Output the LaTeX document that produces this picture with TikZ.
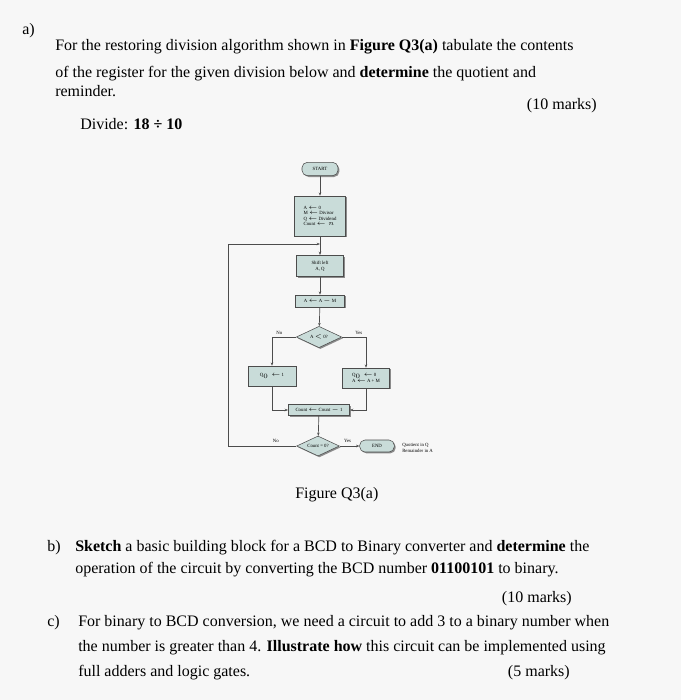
\documentclass[tikz,border=0pt]{standalone}
\usepackage{fontspec}
\setmainfont{Liberation Serif}
\usetikzlibrary{shapes.geometric,arrows.meta,shadows}
\begin{document}
\begin{tikzpicture}[x=0.75pt,y=-0.75pt,
 txt/.style={anchor=base west,inner sep=0,font=\fontsize{12}{14}\selectfont},
 txtr/.style={anchor=base east,inner sep=0,font=\fontsize{12}{14}\selectfont},
 fbox/.style={draw=black!70,fill=boxc,font=\fontsize{3.6}{4.2}\selectfont,align=center,inner sep=1pt,drop shadow={shadow xshift=1pt,shadow yshift=-1pt,fill=black!45,opacity=1}},
 dia/.style={fbox,diamond,aspect=2.2,inner sep=0pt},
 ln/.style={draw=black!70,line width=0.5pt},
 arr/.style={ln,-{Stealth[length=2.5pt]}},
 lab/.style={font=\fontsize{3.6}{4.2}\selectfont,inner sep=0}]
\definecolor{boxc}{HTML}{C9DCD9}
\fill[black!3] (0,0) rectangle (681,700);
\useasboundingbox (0,0) rectangle (681,700);
% text
\node[txt] (a) at (22,34) {a)};
\node[txt] (l1) at (55,50) {For the restoring division algorithm shown in \textbf{Figure Q3(a)} tabulate the contents};
\node[txt] (l2) at (55,77) {of the register for the given division below and \textbf{determine} the quotient and};
\node[txt] (l3) at (55,96) {reminder.};
\node[txtr] (m1) at (597,109) {(10 marks)};
\node[txt] (l4) at (80,129) {Divide: \textbf{18 ÷ 10}};
\node[txt] (fig) at (295,498) {Figure Q3(a)};
\node[txt] (b) at (47,551) {b)};
\node[txt] (b1) at (75,551) {\textbf{Sketch} a basic building block for a BCD to Binary converter and \textbf{determine} the};
\node[txt] (b2) at (75,573) {operation of the circuit by converting the BCD number \textbf{01100101} to binary.};
\node[txtr] (m2) at (572,602) {(10 marks)};
\node[txt] (c) at (47,626) {c)};
\node[txt] (c1) at (78,626) {For binary to BCD conversion, we need a circuit to add 3 to a binary number when};
\node[txt] (c2) at (78,651) {the number is greater than 4. \textbf{Illustrate how} this circuit can be implemented using};
\node[txt] (c3) at (78,676) {full adders and logic gates.};
\node[txtr] (m3) at (570,676) {(5 marks)};
% flowchart
\node[fbox,rounded corners=4pt,minimum width=27pt,minimum height=10pt] (start) at (320,169) {START};
\node[fbox,minimum width=38pt,minimum height=30pt,align=left] (init) at (320,216) {A $\leftarrow$ 0\\M $\leftarrow$ Divisor\\Q $\leftarrow$ Dividend\\Count $\leftarrow n$};
\node[fbox,minimum width=35pt,minimum height=16pt] (shift) at (320,266) {Shift left\\A, Q};
\node[fbox,minimum width=37pt,minimum height=9pt] (sub) at (320,301) {A $\leftarrow$ A $-$ M};
\node[dia,minimum width=34pt,minimum height=16pt] (d1) at (319,337) {A $<$ 0?};
\node[fbox,minimum width=36pt,minimum height=15pt] (q1) at (272,376) {Q$_0\leftarrow$ 1};
\node[fbox,minimum width=35pt,minimum height=15pt,align=left,font=\fontsize{3.6}{5}\selectfont] (q0) at (366,378) {Q$_0\leftarrow$ 0\\A $\leftarrow$ A + M};
\node[fbox,minimum width=46pt,minimum height=8pt] (cnt) at (319,410) {Count $\leftarrow$ Count $-$ 1};
\node[dia,minimum width=32pt,minimum height=15pt] (d2) at (318,446) {Count = 0?};
\node[fbox,rounded corners=4pt,minimum width=26pt,minimum height=9pt] (end) at (377,446) {END};
\node[lab,align=left,anchor=west] (res) at (402,448) {Quotient in Q\\Remainder in A};
\coordinate (loop) at (228,446);
\coordinate (loopt) at (228,244);
\draw[arr] (start) -- (init);
\draw[arr] (init) -- (shift);
\draw[arr] (shift) -- (sub);
\draw[arr] (sub) -- (d1);
\draw[arr] (d1.west) -| node[lab,pos=0.35,above=1.5pt] {No} (q1.north);
\draw[arr] (d1.east) -| node[lab,pos=0.35,above=1.5pt] {Yes} (q0.north);
\draw[arr] (q1.south) |- (cnt.west);
\draw[arr] (q0.south) |- (cnt.east);
\draw[arr] (cnt) -- (d2);
\draw[arr] (d2) -- node[lab,above=2pt,pos=0.4] {Yes} (end);
\draw[ln] (d2.west) -- node[lab,above=2pt,pos=0.3] {No} (loop) -- (loopt);
\draw[arr] (loopt) -- (loopt -| shift.north);
\end{tikzpicture}
\end{document}
